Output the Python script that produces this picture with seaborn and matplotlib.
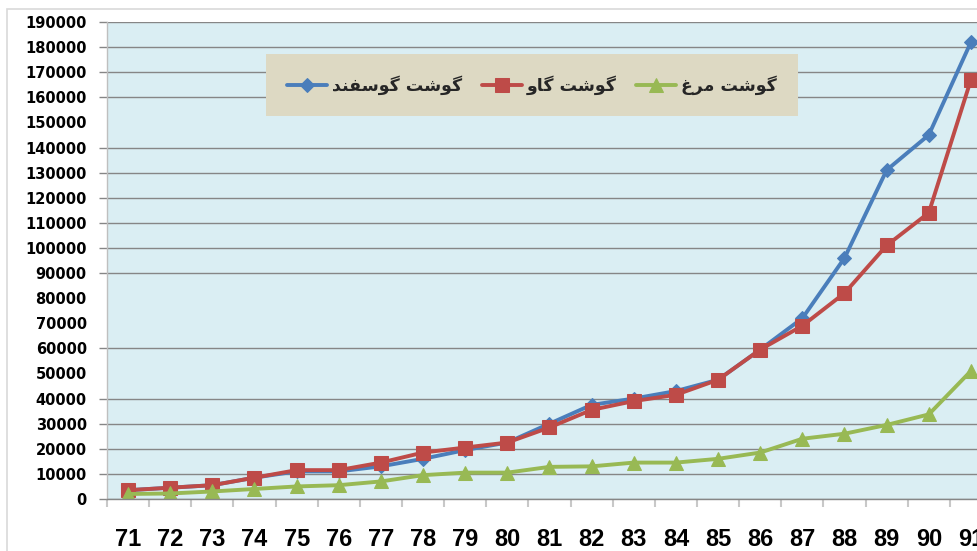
import matplotlib
matplotlib.use("Agg")
import matplotlib.pyplot as plt
from matplotlib.patches import Rectangle
from matplotlib.ticker import FixedLocator
import pandas as pd
import seaborn as sns

years = [str(y) for y in range(71, 92)]
sheep = [3500, 4500, 5500, 8500, 11000, 11000, 13000, 16000, 19500, 22500, 30000,
         37500, 40000, 43000, 47500, 59500, 72000, 96000, 131000, 145000, 182000]
cattle = [3500, 4500, 5500, 8500, 11500, 11500, 14500, 18500, 20500, 22500, 28500,
          35500, 39000, 41500, 47500, 59500, 69000, 82000, 101000, 114000, 167000]
chicken = [2000, 2200, 3000, 4000, 5000, 5500, 7000, 9500, 10500, 10500, 12800,
           13000, 14500, 14500, 16000, 18500, 24000, 26000, 29500, 33700, 51000]
series_names = ["گوشت گوسفند", "گوشت گاو", "گوشت مرغ"]
y_ticks = list(range(0, 190001, 10000))
grid_values = [0, 10000, 20000, 30000, 40000, 60000, 90000, 100000, 110000, 120000,
               130000, 140000, 160000, 170000, 180000, 190000]

df = pd.DataFrame({"year": years, "sheep": sheep, "cattle": cattle, "chicken": chicken})

# minimal Arabic/Persian shaping (matplotlib has no complex text layout)
FORMS = {
    "گ": (0xFB92, 0xFB93, 0xFB94, 0xFB95), "و": (0xFEED, 0xFEEE, None, None),
    "ش": (0xFEB5, 0xFEB6, 0xFEB7, 0xFEB8), "ت": (0xFE95, 0xFE96, 0xFE97, 0xFE98),
    "س": (0xFEB1, 0xFEB2, 0xFEB3, 0xFEB4), "ف": (0xFED1, 0xFED2, 0xFED3, 0xFED4),
    "ن": (0xFEE5, 0xFEE6, 0xFEE7, 0xFEE8), "د": (0xFEA9, 0xFEAA, None, None),
    "ا": (0xFE8D, 0xFE8E, None, None), "م": (0xFEE1, 0xFEE2, 0xFEE3, 0xFEE4),
    "ر": (0xFEAD, 0xFEAE, None, None), "غ": (0xFECD, 0xFECE, 0xFECF, 0xFED0),
}


def shape(text):
    out = []
    for i, ch in enumerate(text):
        if ch not in FORMS:
            out.append(ch)
            continue
        f = FORMS[ch]
        prev = text[i - 1] if i > 0 else ""
        nxt = text[i + 1] if i + 1 < len(text) else ""
        pj = prev in FORMS and FORMS[prev][2] is not None
        nj = nxt in FORMS and f[2] is not None
        if pj and nj:
            out.append(chr(f[3]))
        elif pj:
            out.append(chr(f[1]))
        elif nj:
            out.append(chr(f[2]))
        else:
            out.append(chr(f[0]))
    return "".join(reversed(out))


sns.set_theme(style="white")
plt.rcParams["font.family"] = ["DejaVu Sans"]

fig = plt.figure(figsize=(9.78, 5.51), dpi=100)
ax = fig.add_axes([107 / 978, 52 / 551, 885 / 978, 477 / 551])
ax.set_facecolor("#DAEEF3")

sns.lineplot(data=df, x="year", y="sheep", ax=ax, color="#4A7EBB", linewidth=2.8,
             marker="D", markersize=6.8, markeredgecolor="#4A7EBB", label=shape(series_names[0]))
sns.lineplot(data=df, x="year", y="cattle", ax=ax, color="#BE4B48", linewidth=2.8,
             marker="s", markersize=10.5, markeredgecolor="#BE4B48", label=shape(series_names[1]))
sns.lineplot(data=df, x="year", y="chicken", ax=ax, color="#98B954", linewidth=2.8,
             marker="^", markersize=10, markeredgecolor="#98B954", label=shape(series_names[2]))

ax.set_xlim(-0.5, len(years) - 0.5)
ax.set_ylim(0, 190000)
ax.set_xlabel("")
ax.set_ylabel("")

# y: labels on every 10000, tick marks and grid only on some
ax.set_yticks(y_ticks)
ax.set_yticklabels([str(v) for v in y_ticks])
ax.yaxis.set_minor_locator(FixedLocator(grid_values))
ax.yaxis.remove_overlapping_locs = False
ax.tick_params(axis="y", which="major", length=0, pad=14.5)
ax.tick_params(axis="y", which="minor", left=True, length=5.5, width=1, color="#868686")
ax.grid(which="minor", axis="y", color="#868686", linewidth=1)
for lab in ax.get_yticklabels():
    lab.set_fontfamily("DejaVu Sans")
    lab.set_fontweight("bold")
    lab.set_fontsize(10.5)
    lab.set_color("black")

# x: category labels, tick marks between categories
ax.xaxis.set_minor_locator(FixedLocator([i - 0.5 for i in range(len(years) + 1)]))
ax.tick_params(axis="x", which="major", length=0, pad=21)
ax.tick_params(axis="x", which="minor", bottom=True, length=6, width=1.5, color="#C8C8C8")
for lab in ax.get_xticklabels():
    lab.set_fontfamily("Liberation Sans")
    lab.set_fontweight("bold")
    lab.set_fontsize(17)
    lab.set_color("black")

for side in ["top", "right"]:
    ax.spines[side].set_visible(False)
ax.spines["left"].set_color("#BFBFBF")
ax.spines["left"].set_linewidth(1)
ax.spines["bottom"].set_color("#868686")
ax.spines["bottom"].set_linewidth(1)

leg = ax.legend(loc="center", bbox_to_anchor=(532 / 978, 1 - 85 / 551),
                bbox_transform=fig.transFigure, ncol=3, frameon=True, fancybox=False,
                facecolor="#DDD9C3", edgecolor="#DDD9C3", framealpha=1,
                prop={"family": "DejaVu Sans", "weight": "bold", "size": 12.5},
                handlelength=2.3, handletextpad=0.3, columnspacing=1.1,
                borderpad=1.2, numpoints=1)
leg.get_frame().set_linewidth(0)

# chart area border
fig.patches.append(Rectangle((7 / 978, -0.1), 1.2, (551 - 9) / 551 + 0.1,
                             transform=fig.transFigure, fill=False,
                             edgecolor="#D9D9D9", linewidth=1.2))

fig.savefig("out.png", dpi=100)
